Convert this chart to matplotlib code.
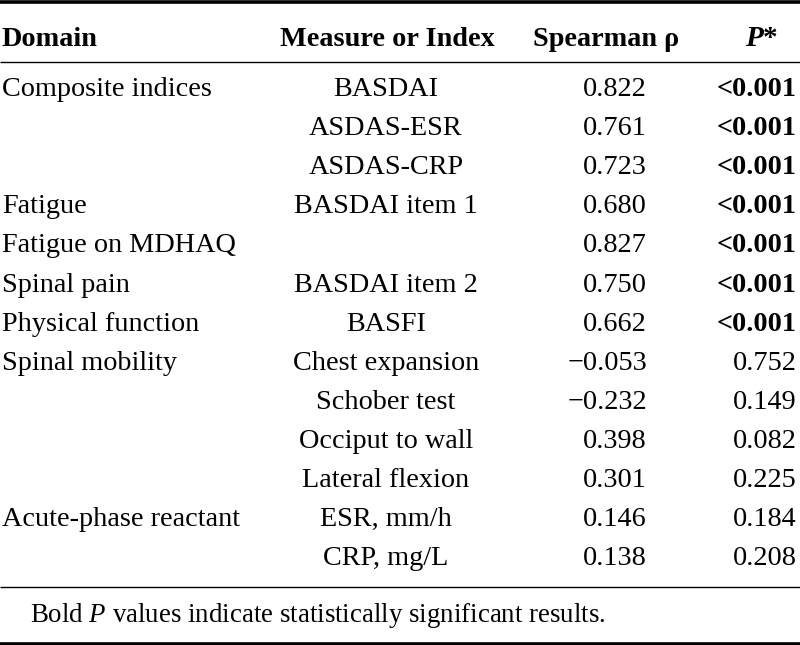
import matplotlib.pyplot as plt

plt.rcParams['font.family'] = ['Liberation Serif', 'DejaVu Serif']
plt.rcParams['mathtext.fontset'] = 'custom'
plt.rcParams['mathtext.rm'] = 'Liberation Serif'
plt.rcParams['mathtext.it'] = 'Liberation Serif:italic'
plt.rcParams['mathtext.bf'] = 'Liberation Serif:bold'
plt.rcParams['mathtext.bfit'] = 'Liberation Serif:bold:italic'

# 表格数据
headers = ["Domain", "Measure or Index", "Spearman ρ", r"$\mathbfit{P}$*"]
domains = ["Composite indices", "", "", "Fatigue", "Fatigue on MDHAQ", "Spinal pain",
           "Physical function", "Spinal mobility", "", "", "", "Acute-phase reactant", ""]
measures = ["BASDAI", "ASDAS-ESR", "ASDAS-CRP", "BASDAI item 1", "", "BASDAI item 2",
            "BASFI", "Chest expansion", "Schober test", "Occiput to wall", "Lateral flexion",
            "ESR, mm/h", "CRP, mg/L"]
rho = [0.822, 0.761, 0.723, 0.680, 0.827, 0.750, 0.662, -0.053, -0.232, 0.398, 0.301, 0.146, 0.138]
p_labels = ["<0.001", "<0.001", "<0.001", "<0.001", "<0.001", "<0.001", "<0.001",
            "0.752", "0.149", "0.082", "0.225", "0.184", "0.208"]
significant = [True] * 7 + [False] * 6
footnote = r"Bold $\mathit{P}$ values indicate statistically significant results."

W, H = 800, 645
FS = 20.3

fig = plt.figure(figsize=(W / 100, H / 100), dpi=100)
ax = fig.add_axes([0, 0, 1, 1])
ax.set_xlim(0, W)
ax.set_ylim(H, 0)
ax.axis('off')

# 横线
ax.plot([0, W], [2, 2], color='black', lw=2.6, solid_capstyle='butt')
ax.plot([0, W], [61.7, 61.7], color='black', lw=1.0, solid_capstyle='butt')
ax.plot([0, W], [587, 587], color='black', lw=1.0, solid_capstyle='butt')
ax.plot([0, W], [643.5, 643.5], color='black', lw=2.6, solid_capstyle='butt')

# 表头
hy = 46
ax.text(2, hy, headers[0], fontsize=FS, fontweight='bold', ha='left', va='baseline')
ax.text(387, hy, headers[1], fontsize=FS, fontweight='bold', ha='center', va='baseline')
ax.text(606, hy, headers[2], fontsize=FS, fontweight='bold', ha='center', va='baseline')
ax.text(762, hy, headers[3], fontsize=FS + 0.8, fontweight='bold', ha='center', va='baseline')

# 表格行
y0, dy = 96, 39.1
for i in range(len(measures)):
    y = y0 + i * dy
    ax.text(2, y, domains[i], fontsize=FS, ha='left', va='baseline')
    ax.text(386, y, measures[i], fontsize=FS, ha='center', va='baseline')
    ax.text(647, y, f"{rho[i]:.3f}".replace('-', '\u2212'), fontsize=FS, ha='right', va='baseline')
    ax.text(797, y, p_labels[i], fontsize=FS, ha='right', va='baseline',
            fontweight='bold' if significant[i] else 'normal')

# 脚注
ax.text(30, 622, footnote, fontsize=19.4, ha='left', va='baseline')

fig.savefig('out.png', dpi=100)
